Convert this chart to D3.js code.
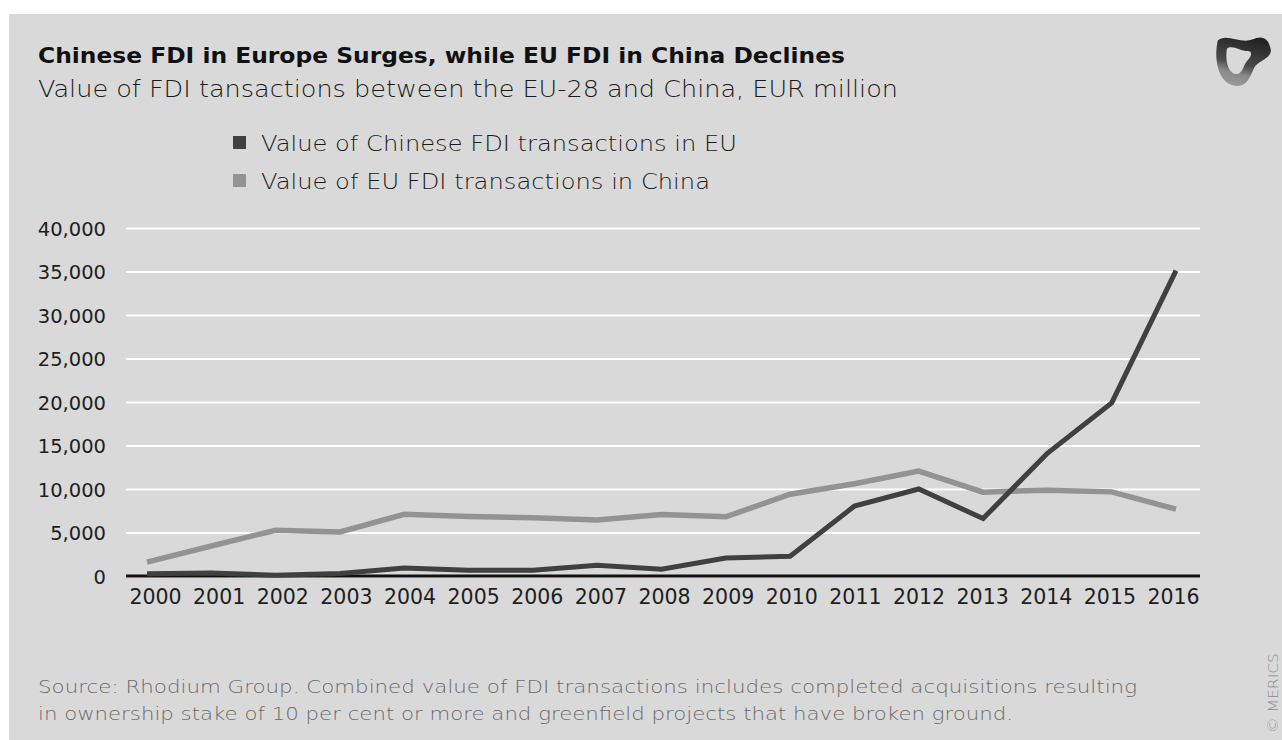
<!DOCTYPE html>
<html>
<head>
<meta charset="utf-8">
<title>Chinese FDI in Europe Surges, while EU FDI in China Declines</title>
<style>
  body { margin: 0; background: #fff; }
  svg { display: block; }
  .axis .domain { display: none; }
  .axis text { font-family: "DejaVu Sans", sans-serif; fill: #1e1e1e; }
</style>
<script src="https://cdn.jsdelivr.net/npm/d3@7/dist/d3.min.js"></script>
</head>
<body>
<svg id="chart" width="1282" height="740"></svg>
<script>
// data (EUR million)
var years = ["2000","2001","2002","2003","2004","2005","2006","2007","2008",
             "2009","2010","2011","2012","2013","2014","2015","2016"];
var chineseInEU = [250, 350, 100, 300, 920, 660, 660, 1230, 770,
                   2070, 2270, 8030, 10000, 6600, 14100, 19900, 35100];
var euInChina = [1600, 3450, 5260, 5070, 7100, 6850, 6700, 6450, 7070,
                 6800, 9400, 10600, 12050, 9640, 9870, 9670, 7680];
var yTicks = [0, 5000, 10000, 15000, 20000, 25000, 30000, 35000, 40000];
var seriesNames = ["Value of Chinese FDI transactions in EU", "Value of EU FDI transactions in China"];

var svg = d3.select("#chart");
var colors = ["#404040", "#939393"];
var font = "'DejaVu Sans', sans-serif";

svg.append("rect")
  .attr("x", 9).attr("y", 14)
  .attr("width", 1282 - 9).attr("height", 740 - 14)
  .attr("fill", "#d9d9d9");

// titles
svg.append("text")
  .attr("x", 38).attr("y", 63)
  .attr("font-family", font)
  .attr("font-weight", "bold")
  .attr("font-size", 22)
  .attr("fill", "#111")
  .attr("textLength", 807).attr("lengthAdjust", "spacingAndGlyphs")
  .text("Chinese FDI in Europe Surges, while EU FDI in China Declines");

svg.append("text")
  .attr("x", 38).attr("y", 97)
  .attr("font-family", font)
  .attr("font-weight", 200)
  .attr("font-size", 22.5)
  .attr("fill", "#1a1a1a")
  .attr("textLength", 860).attr("lengthAdjust", "spacingAndGlyphs")
  .text("Value of FDI tansactions between the EU-28 and China, EUR million");

// scales
var plotLeft = 126, plotRight = 1200, plotTop = 228, plotBottom = 576;
var x = d3.scalePoint().domain(years).range([147, 1176]);
var xLabel = d3.scalePoint().domain(years).range([155, 1173]);
var y = d3.scaleLinear().domain([0, 40000]).range([plotBottom, plotTop]);

// y axis with gridlines
var yAxis = svg.append("g")
  .attr("class", "axis")
  .attr("transform", "translate(" + plotLeft + ",0)")
  .call(d3.axisLeft(y).tickValues(yTicks).tickFormat(d3.format(",")).tickSize(-(plotRight - plotLeft)).tickPadding(20));
yAxis.selectAll("line").attr("stroke", "#fff").attr("stroke-width", 2);
yAxis.selectAll("text").attr("font-size", 19.5).attr("dy", "0.36em");

// x axis labels
var xAxis = svg.append("g")
  .attr("class", "axis")
  .attr("transform", "translate(0," + plotBottom + ")")
  .call(d3.axisBottom(xLabel).tickSize(0).tickPadding(13));
xAxis.selectAll("text").attr("font-size", 20.5);

// lines
var line = d3.line()
  .x(function(d, i) { return x(years[i]); })
  .y(function(d) { return y(d); });

svg.append("path")
  .datum(euInChina)
  .attr("fill", "none")
  .attr("stroke", colors[1])
  .attr("stroke-width", 5.5)
  .attr("stroke-linejoin", "miter")
  .attr("d", line);

// zero line
svg.append("line")
  .attr("x1", plotLeft).attr("x2", plotRight)
  .attr("y1", y(0)).attr("y2", y(0))
  .attr("stroke", "#111").attr("stroke-width", 3);

svg.append("path")
  .datum(chineseInEU)
  .attr("fill", "none")
  .attr("stroke", colors[0])
  .attr("stroke-width", 5)
  .attr("stroke-linejoin", "miter")
  .attr("d", line);

// legend
var legendWidths = [476, 449];
var legend = svg.append("g")
  .selectAll("g")
  .data(seriesNames)
  .enter().append("g")
    .attr("transform", function(d, i) { return "translate(233," + (136 + i * 38) + ")"; });

legend.append("rect")
  .attr("width", 13).attr("height", 13)
  .attr("fill", function(d, i) { return colors[i]; });

legend.append("text")
  .attr("x", 28).attr("y", 14.5)
  .attr("font-family", font)
  .attr("font-weight", 200)
  .attr("font-size", 21.5)
  .attr("fill", "#1a1a1a")
  .attr("textLength", function(d, i) { return legendWidths[i]; })
  .attr("lengthAdjust", "spacingAndGlyphs")
  .text(function(d) { return d; });

// source
var sourceLines = [
  "Source: Rhodium Group. Combined value of FDI transactions includes completed acquisitions resulting",
  "in ownership stake of 10 per cent or more and greenfield projects that have broken ground."
];
var sourceWidths = [1099, 975];
svg.append("g").selectAll("text")
  .data(sourceLines)
  .enter().append("text")
    .attr("x", 38)
    .attr("y", function(d, i) { return 693 + i * 27; })
    .attr("font-family", font)
    .attr("font-weight", 200)
    .attr("font-size", 18.5)
    .attr("fill", "#6a6a6a")
    .attr("textLength", function(d, i) { return sourceWidths[i]; })
    .attr("lengthAdjust", "spacingAndGlyphs")
    .text(function(d) { return d; });

svg.append("text")
  .attr("transform", "translate(1278,733) rotate(-90)")
  .attr("font-family", font)
  .attr("font-weight", 200)
  .attr("font-size", 14)
  .attr("fill", "#8a8a8a")
  .attr("textLength", 80).attr("lengthAdjust", "spacingAndGlyphs")
  .text("© MERICS");

// logo (decorative blob)
var defs = svg.append("defs");
var grad = defs.append("linearGradient")
  .attr("id", "lg").attr("x1", "0.6").attr("y1", "0").attr("x2", "0.3").attr("y2", "1");
grad.append("stop").attr("offset", "0").attr("stop-color", "#222");
grad.append("stop").attr("offset", "0.55").attr("stop-color", "#4a4a4a");
grad.append("stop").attr("offset", "0.75").attr("stop-color", "#8a8a8a");
grad.append("stop").attr("offset", "1").attr("stop-color", "#9a9a9a");
svg.append("path")
  .attr("transform", "translate(1243,58) scale(1.15)")
  .attr("fill", "url(#lg)")
  .attr("fill-rule", "evenodd")
  .attr("d", "M-22,-15 C-15,-22 -2,-12 8,-16 C16,-20 22,-18 24,-8 C26,0 14,2 10,8 C6,16 4,26 -8,24 C-20,22 -26,4 -22,-15 Z " +
             "M-14,-8 C-10,-12 -2,-6 4,-6 C8,-6 8,-2 4,2 C0,6 0,14 -6,14 C-12,14 -16,4 -14,-8 Z");
</script>
</body>
</html>
